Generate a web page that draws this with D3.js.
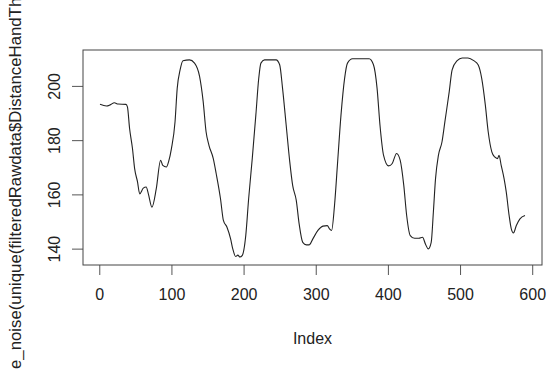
<!DOCTYPE html>
<html>
<head>
<meta charset="utf-8">
<script src="https://cdn.jsdelivr.net/npm/d3@7"></script>
<style>
  body { margin: 0; background: #fff; }
  svg { display: block; font-family: "Liberation Sans", Arial, sans-serif; }
</style>
</head>
<body>
<svg id="chart" width="550" height="378"></svg>
<script>
// index positions
const indexVals = [1, 10, 15, 21, 26, 37, 39, 42, 46, 49, 53, 56, 61, 65, 68, 73, 79, 85, 88, 93, 96, 100,
    105, 108, 112, 116, 125, 132, 139, 144, 148, 152, 158, 162, 168, 172, 177, 182, 185, 189, 192, 195, 198,
    203, 207, 212, 217, 221, 224, 229, 245, 250, 254, 259, 264, 268, 273, 277, 282, 287, 291, 296, 303, 310,
    316, 319, 322, 326, 330, 335, 340, 344, 351, 374, 380, 385, 389, 394, 401, 406, 412, 417, 422, 426, 431,
    437, 443, 448, 452, 456, 460, 463, 466, 470, 475, 479, 485, 489, 496, 503, 511, 519, 525, 530, 535, 539,
    544, 548, 552, 554, 557, 561, 564, 568, 571, 574, 578, 583, 590];
// smoothed distance values
const distVals = [193.2, 192.6, 193, 193.8, 193.3, 193.2, 192.3, 184.3, 176.9, 169.5, 164.6, 160.2, 162.3,
    162.7, 160.2, 155.3, 162.1, 172.6, 170.7, 170.1, 172, 176.9,
    186.8, 199.1, 205.9, 209.3, 209.6, 208.4, 203.5, 194.2, 183.1, 178.1, 173.2, 167.7, 158.4, 150.4, 147.9,
    143.6, 139.9, 137.1, 137.6, 136.9, 137.4,
    144.8, 158.4, 173.2, 189.3, 202.8, 208.4, 209.6, 209.6, 207.8, 199.1, 185.6, 172, 163.3, 157.8, 149.1,
    142.3, 141.4, 141.4, 143.6, 146.7, 148.3,
    148.5, 147.3, 146.7, 155.9, 170.7, 189.3, 202.8, 208.4, 210, 210, 207.8, 199.1, 185.6, 174.4, 170.5,
    171.4, 175.1, 172.6, 163.3, 152.2, 144.8,
    143.8, 143.8, 144.2, 141.7, 139.9, 142.3, 153.4, 165.8, 174.4, 179.4, 186.8, 197.9, 205.9, 209.3, 210.3,
    210.3, 209.3, 207.8, 202.8, 193, 183.1,
    175.7, 173.8, 173.2, 174.4, 170.7, 165.8, 160.9, 152.2, 147.3, 145.8, 148.5, 151, 152.2];

const xTicks = [0, 100, 200, 300, 400, 500, 600];
const yTicks = [140, 160, 180, 200];
const xLabel = "Index";
const yLabel = "e_noise(unique(filteredRawdata$DistanceHandThumb))";

const data = indexVals.map((d, i) => ({ x: d, y: distVals[i] }));

const svg = d3.select("#chart");
const margin = { top: 50, bottom: 113, left: 83, right: 8 };
const width = 550, height = 378;

// R style 4% padding on both axes
function pad(ext) {
    const p = (ext[1] - ext[0]) * 0.04;
    return [ext[0] - p, ext[1] + p];
}
const xScale = d3.scaleLinear()
    .domain(pad(d3.extent(indexVals)))
    .range([margin.left, width - margin.right]);
const yScale = d3.scaleLinear()
    .domain(pad(d3.extent(distVals)))
    .range([height - margin.bottom, margin.top]);

const fontSize = 16;
const ink = "#222";

// x axis
const xAxis = d3.axisBottom(xScale).tickValues(xTicks).tickSize(10).tickPadding(14);
const gx = svg.append("g")
    .attr("transform", `translate(0,${height - margin.bottom})`)
    .call(xAxis);
gx.select(".domain").remove();
gx.selectAll("line").attr("stroke", "#555");
gx.selectAll("text").attr("font-size", fontSize).attr("fill", ink).attr("font-family", null);

// y axis, labels rotated like R
const yAxis = d3.axisLeft(yScale).tickValues(yTicks).tickSize(11).tickPadding(0);
const gy = svg.append("g")
    .attr("transform", `translate(${margin.left},0)`)
    .call(yAxis);
gy.select(".domain").remove();
gy.selectAll("line").attr("stroke", "#555");
gy.selectAll("text")
    .attr("font-size", fontSize).attr("fill", ink).attr("font-family", null)
    .attr("x", null).attr("dy", null)
    .attr("text-anchor", "middle")
    .attr("transform", "translate(-23,0) rotate(-90)");

// box
svg.append("rect")
    .attr("x", margin.left).attr("y", margin.top)
    .attr("width", width - margin.left - margin.right)
    .attr("height", height - margin.top - margin.bottom)
    .attr("fill", "none").attr("stroke", "#444").attr("stroke-width", 1);

// the line
const line = d3.line()
    .x(d => xScale(d.x))
    .y(d => yScale(d.y))
    .curve(d3.curveMonotoneX);
svg.append("path")
    .datum(data)
    .attr("d", line)
    .attr("fill", "none")
    .attr("stroke", "#222")
    .attr("stroke-width", 1.1);

// axis titles
svg.append("text")
    .attr("x", (margin.left + width - margin.right) / 2)
    .attr("y", 344)
    .attr("text-anchor", "middle")
    .attr("font-size", fontSize).attr("fill", ink)
    .text(xLabel);

// the label is longer than the picture, it runs off the top like in the original
svg.append("text")
    .attr("transform", "translate(21,369) rotate(-90)")
    .attr("text-anchor", "start")
    .attr("font-size", 16.8).attr("fill", ink)
    .text(yLabel);
</script>
</body>
</html>
